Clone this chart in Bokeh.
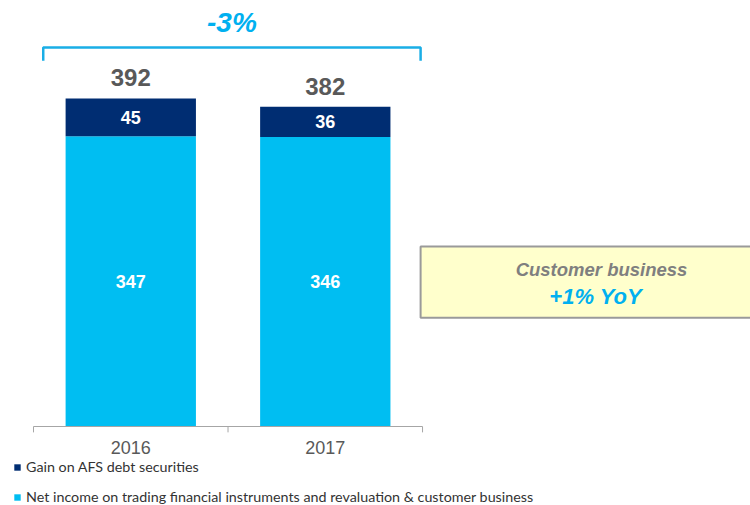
from bokeh.plotting import figure
from bokeh.models import ColumnDataSource, Range1d, Legend, LegendItem
from bokeh.core.properties import value
from bokeh.embed import file_html
from bokeh.resources import INLINE

# ---- data ----
years = ["2016", "2017"]
net_income = [347, 346]
afs_gain = [45, 36]
totals = [392, 382]
change_label = "-3%"
box_line1 = "Customer business"
box_line2 = "+1% YoY"
series_names = ["Gain on AFS debt securities",
                "Net income on trading financial instruments and revaluation & customer business"]

NAVY = "#002D72"
CYAN = "#00BEF2"
BLUE_TXT = "#00B0F0"
GREY_TXT = "#595959"

xpos = [i + 0.5 for i in range(len(years))]
tops = [a + b for a, b in zip(net_income, afs_gain)]

src = ColumnDataSource(dict(
    x=xpos, year=years, net=net_income, afs=afs_gain, top=tops, total=totals,
    net_mid=[n / 2 for n in net_income],
    afs_mid=[n + a / 2 for n, a in zip(net_income, afs_gain)],
    net_lbl=[str(v) for v in net_income],
    afs_lbl=[str(v) for v in afs_gain],
    tot_lbl=[str(v) for v in totals],
))

W, H = 750, 505
p = figure(width=W, height=H, output_backend="svg", toolbar_location=None,
           x_axis_type=None, y_axis_type=None,
           x_range=Range1d(-0.1697, 3.686), y_range=Range1d(-94.4, 509.1),
           min_border=0)
p.outline_line_color = None
p.xgrid.visible = False
p.ygrid.visible = False
p.background_fill_color = "white"

# bars
r_net = p.vbar(x="x", width=0.67, bottom=0, top="net", source=src,
               fill_color=CYAN, line_color=None)
r_afs = p.vbar(x="x", width=0.67, bottom="net", top="top", source=src,
               fill_color=NAVY, line_color=None)

# segment labels
p.text(x="x", y="net_mid", text="net_lbl", source=src, text_color="white",
       text_font=value("Liberation Sans"), text_font_style="bold",
       text_font_size="18px", text_align="center", text_baseline="middle")
p.text(x="x", y="afs_mid", text="afs_lbl", source=src, text_color="white",
       text_font=value("Liberation Sans"), text_font_style="bold",
       text_font_size="18px", text_align="center", text_baseline="middle")
# totals
p.text(x="x", y="top", text="tot_lbl", source=src, text_color=GREY_TXT,
       text_font=value("Liberation Sans"), text_font_style="bold",
       text_font_size="24px", text_align="center", text_baseline="bottom",
       y_offset=-12)

# axis line and ticks (category axis drawn manually)
n = len(years)
p.segment(x0=[0], y0=[0], x1=[n], y1=[0], line_color="#A6A6A6", line_width=1)
p.segment(x0=list(range(n + 1)), y0=[0] * (n + 1), x1=list(range(n + 1)),
          y1=[-7] * (n + 1), line_color="#A6A6A6", line_width=1)
p.text(x="x", y=0, text="year", source=src, text_color=GREY_TXT,
       text_font=value("Liberation Sans"), text_font_size="18px",
       text_align="center", text_baseline="middle", y_offset=21)

# bracket with -3%
bx0, bx1 = xpos[0] - 0.45, xpos[-1] + 0.49
by = max(totals) + 61
p.line(x=[bx0, bx0, bx1, bx1], y=[by - 16, by, by, by - 16],
       line_color="#1AAEE6", line_width=2.5)
p.text(x=[(bx0 + bx1) / 2], y=[by], text=[change_label], text_color=BLUE_TXT,
       text_font=value("Liberation Sans"), text_font_style="bold italic",
       text_font_size="28px", text_align="center", text_baseline="middle",
       y_offset=-25)

# yellow call-out box
p.quad(left=[1.99], right=[4.5], bottom=[130], top=[215],
       fill_color="#FFFFCC", line_color="#9A9A9A", line_width=2)
p.text(x=[2.92], y=[172], text=[box_line1], text_color="#7F7F7F",
       text_font=value("Liberation Sans"), text_font_style="bold italic",
       text_font_size="18.5px", text_align="center", text_baseline="middle",
       y_offset=-13)
p.text(x=[2.89], y=[172], text=[box_line2], text_color=BLUE_TXT,
       text_font=value("Liberation Sans"), text_font_style="bold italic",
       text_font_size="22px", text_align="center", text_baseline="middle",
       y_offset=14)

# legend
legend = Legend(items=[LegendItem(label=series_names[0], renderers=[r_afs]),
                       LegendItem(label=series_names[1], renderers=[r_net])],
                location=(13, 0), orientation="vertical",
                glyph_width=8, glyph_height=8, label_height=14,
                label_text_font="Lato", label_text_font_size="14.3px",
                label_text_color="#333333", label_standoff=5,
                spacing=13, padding=0, margin=0,
                border_line_color=None, background_fill_alpha=0)
p.add_layout(legend)

open("out.html", "w").write(file_html(p, INLINE))
